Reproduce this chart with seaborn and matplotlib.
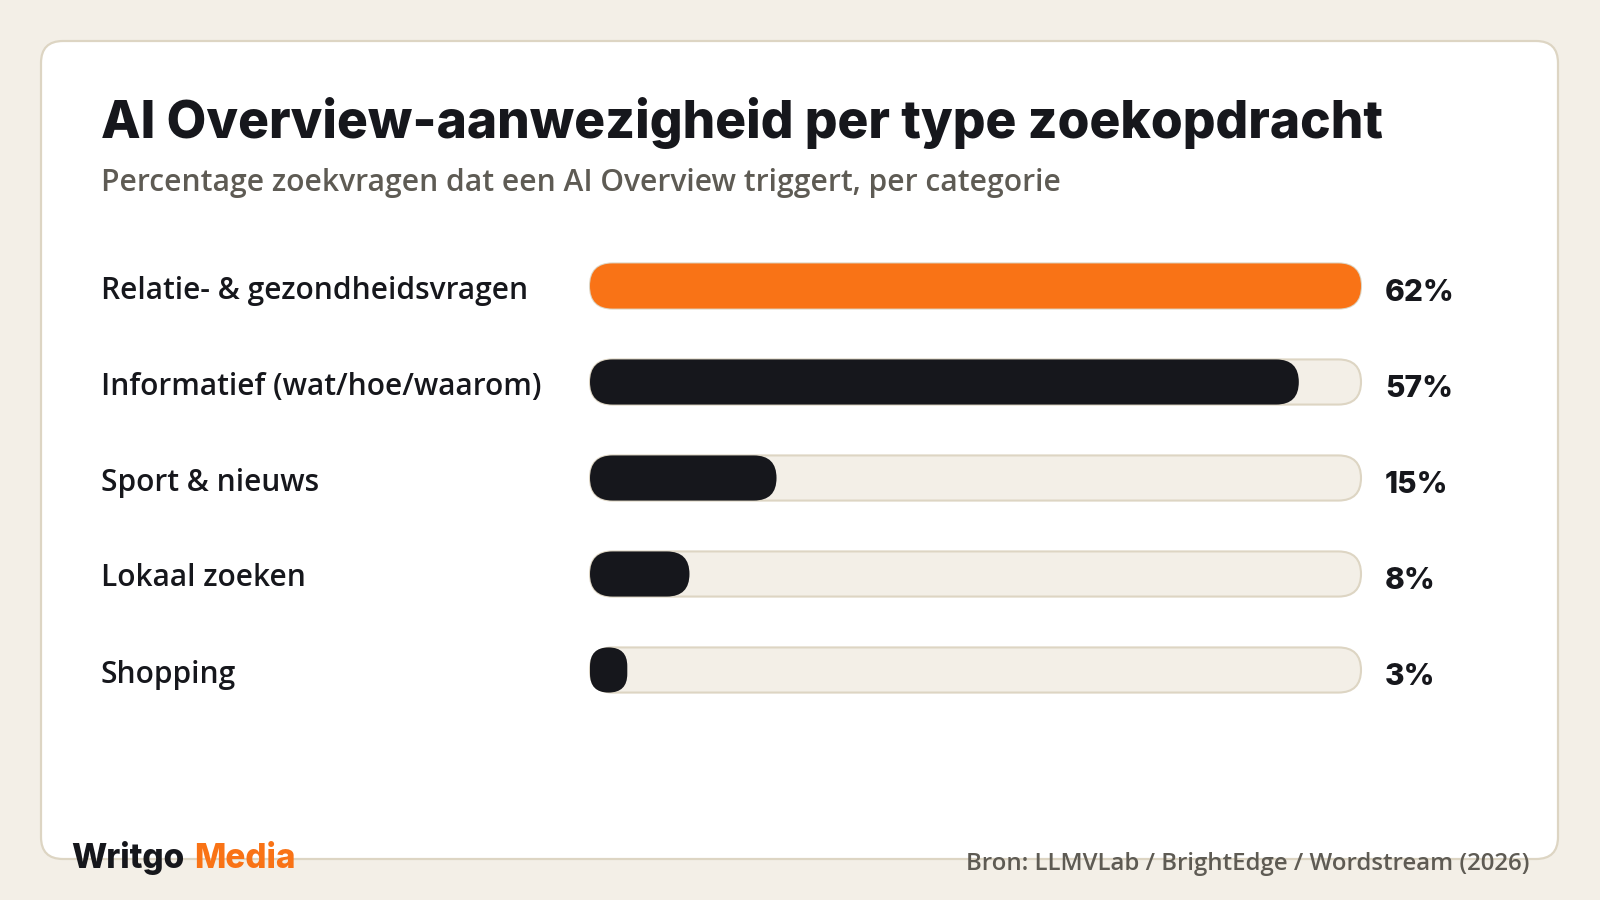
import matplotlib
matplotlib.use("Agg")
import matplotlib.pyplot as plt
import matplotlib.transforms as mtransforms
from matplotlib.patches import FancyBboxPatch
import seaborn as sns
import pandas as pd

# ---------------- data ----------------
categories = [
    "Relatie- & gezondheidsvragen",
    "Informatief (wat/hoe/waarom)",
    "Sport & nieuws",
    "Lokaal zoeken",
    "Shopping",
]
values = [62, 57, 15, 8, 3]
value_labels = ["62%", "57%", "15%", "8%", "3%"]
scale_max = 62
highlight = "Relatie- & gezondheidsvragen"

title = "AI Overview-aanwezigheid per type zoekopdracht"
subtitle = "Percentage zoekvragen dat een AI Overview triggert, per categorie"
source = "Bron: LLMVLab / BrightEdge / Wordstream (2026)"
brand_a = "Writgo"
brand_b = "Media"

# ---------------- style ----------------
BG = "#F3EFE7"
CARD = "#FFFFFF"
BORDER = "#DDD5C3"
TRACK = "#F3EFE7"
DARK = "#16171C"
ORANGE = "#F97316"
GREY = "#5E5B54"

sns.set_theme(style="white")
plt.rcParams["font.family"] = ["Open Sans", "DejaVu Sans"]

W, H = 1600, 900
fig = plt.figure(figsize=(16, 9), dpi=100)
fig.patch.set_facecolor(BG)

# card (pixel coordinates)
card = FancyBboxPatch((41, 41), 1517, 818,
                      boxstyle="round,pad=0,rounding_size=22",
                      transform=mtransforms.IdentityTransform(),
                      fc=CARD, ec=BORDER, lw=1.6, zorder=0)
fig.add_artist(card)

# plotting axes
ax = fig.add_axes([590 / W, 1 - 718 / H, 771 / W, 480 / H])
ax.set_facecolor("none")

df = pd.DataFrame({"category": categories, "value": values,
                   "track": [scale_max] * len(categories)})
palette = {c: (ORANGE if c == highlight else DARK) for c in categories}

sns.barplot(data=df, y="category", x="track", color=TRACK, width=0.47,
            ax=ax, orient="h", saturation=1)
n_track = len(ax.patches)
sns.barplot(data=df, y="category", x="value", hue="category", palette=palette,
            width=0.47, ax=ax, orient="h", legend=False, saturation=1)

ax.set_xlim(0, scale_max)
ax.set_ylim(len(categories) - 0.5, -0.5)
for s in ax.spines.values():
    s.set_visible(False)
ax.set_xticks([])
ax.set_yticks([])
ax.set_xlabel("")
ax.set_ylabel("")

# replace rectangular bars with rounded (pill) bars in pixel space
patches = list(ax.patches)
for i, p in enumerate(patches):
    x0, y0 = p.get_x(), p.get_y()
    w, h = p.get_width(), p.get_height()
    (px0, py0) = ax.transData.transform((x0, y0))
    (px1, py1) = ax.transData.transform((x0 + w, y0 + h))
    left, right = min(px0, px1), max(px0, px1)
    bot, top = min(py0, py1), max(py0, py1)
    pw, ph = right - left, top - bot
    r = min(pw, ph) / 2
    is_track = i < n_track
    fc = p.get_facecolor()
    newp = FancyBboxPatch((left, bot), pw, ph,
                          boxstyle=f"round,pad=0,rounding_size={r}",
                          transform=mtransforms.IdentityTransform(),
                          fc=fc, ec=(BORDER if is_track else "none"),
                          lw=(1.5 if is_track else 0),
                          zorder=(1 if is_track else 2))
    fig.add_artist(newp)
    p.remove()

# category and value labels
lab_tr = mtransforms.blended_transform_factory(fig.transFigure, ax.transData)
lab_tr = mtransforms.offset_copy(lab_tr, fig=fig, y=-12.5, units="dots")
val_tr = mtransforms.blended_transform_factory(fig.transFigure, ax.transData)
val_tr = mtransforms.offset_copy(val_tr, fig=fig, y=-15, units="dots")
for i, (c, vl) in enumerate(zip(categories, value_labels)):
    fig.text(101 / W, i, c, transform=lab_tr, ha="left", va="baseline",
             fontsize=21.5, color=DARK, fontweight="semibold", family=["Open Sans", "DejaVu Sans"])
    fig.text(1385 / W, i, vl, transform=val_tr, ha="left", va="baseline",
             fontsize=21.5, color=DARK, fontweight="heavy", family=["Inter", "DejaVu Sans"])

# title, subtitle
fig.text(101 / W, 1 - 138 / H, title, ha="left", va="baseline",
         fontsize=37.1, color=DARK, fontweight="heavy", family=["Inter", "DejaVu Sans"])
fig.text(101 / W, 1 - 191 / H, subtitle, ha="left", va="baseline",
         fontsize=21.6, color=GREY, fontweight="semibold", family=["Open Sans", "DejaVu Sans"])

# footer
fig.text(71 / W, 1 - 868 / H, brand_a, ha="left", va="baseline",
         fontsize=24, color=DARK, fontweight="heavy", family=["Inter", "DejaVu Sans"])
fig.text(194 / W, 1 - 868 / H, brand_b, ha="left", va="baseline",
         fontsize=24, color=ORANGE, fontweight="heavy", family=["Inter", "DejaVu Sans"])
fig.text(1530 / W, 1 - 870 / H, source, ha="right", va="baseline",
         fontsize=17.3, color=GREY, fontweight="semibold", family=["Open Sans", "DejaVu Sans"])

fig.savefig("out.png", dpi=100, facecolor=BG)
